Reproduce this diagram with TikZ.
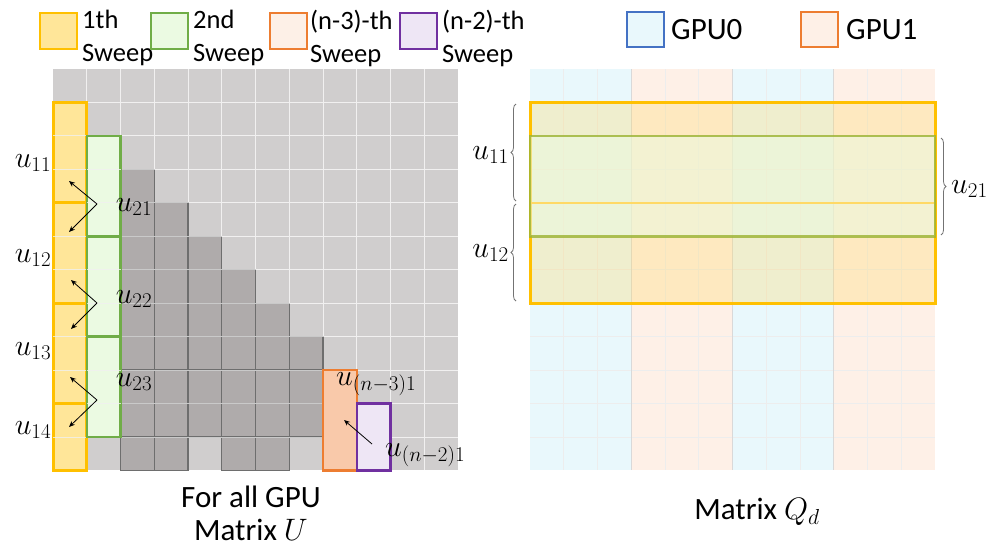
\RequirePackage{fix-cm}
\documentclass[tikz,border=0pt]{standalone}
\usepackage{amsmath}
\usepackage{fontspec}
\setmainfont{Carlito}
\usepackage{tikz}
\usetikzlibrary{arrows.meta,decorations.pathreplacing}
\definecolor{sweepone}{HTML}{FFC000}
\definecolor{sweeponefill}{HTML}{FFE699}
\definecolor{sweeponeveil}{HTML}{FFD966}
\definecolor{sweeptwo}{HTML}{70AD47}
\definecolor{sweeptwofill}{HTML}{EBFAE2}
\definecolor{sweepthree}{HTML}{ED7D31}
\definecolor{sweepthreefill}{HTML}{F9C9AA}
\definecolor{sweepthreelight}{HTML}{FDF0E7}
\definecolor{sweepfour}{HTML}{7030A0}
\definecolor{sweepfourfill}{HTML}{EEE6F5}
\definecolor{gpuzero}{HTML}{4472C4}
\definecolor{gpuzerofill}{HTML}{E9F8FC}
\definecolor{gpuonefill}{HTML}{FEF0E7}
\definecolor{matgray}{HTML}{D0CECE}
\definecolor{cellgray}{HTML}{AFABAB}
\definecolor{celledge}{HTML}{6E6E6E}
\def\firstsweep{(0,1) rectangle (1,12)}
\def\secondsweep{(1,2) rectangle (2,11)}
\def\qblock{(0,1) rectangle (12,7)}
\def\qgreen{(0,2) rectangle (12,5)}

\begin{document}
\begin{tikzpicture}[x=1pt,y=-1pt,
  legendbox/.style={line width=2.5pt},
  legendtext/.style={font=\fontsize{26.5}{33}\selectfont,align=left,inner sep=0pt,anchor=north west},
  gputext/.style={font=\fontsize{31}{33}\selectfont,inner sep=0pt,anchor=west},
  ulabel/.style={font=\fontsize{30}{33}\selectfont,inner sep=0pt},
  caption/.style={font=\fontsize{31}{33}\selectfont,align=center,inner sep=0pt},
  gridline/.style={white!70!matgray,line width=0.9pt},
  qgrid/.style={black!7,line width=0.8pt},
  darkcell/.style={fill=cellgray,draw=celledge,line width=1.2pt},
  pointer/.style={-{Stealth[length=6pt,width=5pt]},line width=0.8pt},
  bracket/.style={black!55,line width=0.8pt,decorate,decoration={brace,amplitude=5pt}}]
\useasboundingbox (0,0) rectangle (997,550);

% legend
\draw[legendbox,draw=sweepone,fill=sweeponefill] (40,13) rectangle (77,49);
\node[legendtext] (leg1) at (82,10) {1th\\Sweep};
\draw[legendbox,draw=sweeptwo,fill=sweeptwofill] (151,13) rectangle (188,49);
\node[legendtext] (leg2) at (193,10) {2nd\\Sweep};
\draw[legendbox,draw=sweepthree,fill=sweepthreelight] (270,13) rectangle (307,49);
\node[legendtext] (leg3) at (310,10) {(n-3)-th\\Sweep};
\draw[legendbox,draw=sweepfour,fill=sweepfourfill] (400,13) rectangle (437,49);
\node[legendtext] (leg4) at (442,10) {(n-2)-th\\Sweep};
\draw[legendbox,draw=gpuzero,fill=gpuzerofill] (627,12) rectangle (664,47);
\node[gputext] (gpu0) at (671,30) {GPU0};
\draw[legendbox,draw=sweepthree,fill=gpuonefill] (801,12) rectangle (838,47);
\node[gputext] (gpu1) at (846,30) {GPU1};

% matrix U
\begin{scope}[shift={(53,69)},x=33.75pt,y=-33.45pt]
  \fill[matgray] (0,0) rectangle (12,12);
  \foreach \i in {1,...,11} {
    \draw[gridline] (\i,0) -- (\i,12);
    \draw[gridline] (0,\i) -- (12,\i);
  }
  \foreach \c/\a/\b in {2/3/11,3/4/11,4/5/10,5/6/11,6/7/11,7/8/10}
    \foreach \r in {\a,...,\b}
      \draw[darkcell] (\c,\r) rectangle ++(1,1);
  \foreach \i in {1,...,11}
    \draw[gridline,opacity=0.7] (0,\i) -- (12,\i);
  \draw[line width=3pt,draw=sweepone,fill=sweeponefill] \firstsweep;
  \foreach \i in {2,3,5,6,8,9,11}
    \draw[gridline,opacity=0.8] (0,\i) -- (1,\i);
  \foreach \i in {4,7,10}
    \draw[sweepone,line width=3pt] (0,\i) -- (1,\i);
  \draw[line width=2.5pt,draw=sweeptwo,fill=sweeptwofill] \secondsweep;
  \foreach \i in {3,4,6,7,9,10}
    \draw[gridline,opacity=0.8] (1,\i) -- (2,\i);
  \foreach \i in {5,8}
    \draw[sweeptwo,line width=2.5pt] (1,\i) -- (2,\i);
  \draw[line width=2.5pt,draw=sweepthree,fill=sweepthreefill] (8,9) rectangle (9,12);
  \draw[line width=2.5pt,draw=sweepfour,fill=sweepfourfill] (9,10) rectangle (10,12);
\end{scope}

% matrix Q_d
\begin{scope}[shift={(530,69)},x=33.75pt,y=-33.45pt]
  \fill[gpuzerofill] (0,0) rectangle (3,12);
  \fill[gpuonefill] (3,0) rectangle (6,12);
  \fill[gpuzerofill] (6,0) rectangle (9,12);
  \fill[gpuonefill] (9,0) rectangle (12,12);
  \foreach \i in {1,...,11} {
    \draw[qgrid] (\i,0) -- (\i,12);
    \draw[qgrid] (0,\i) -- (12,\i);
  }
  \foreach \i in {3,6,9}
    \draw[black!15,line width=1pt] (\i,0) -- (\i,12);
  \draw[line width=3pt,draw=sweepone,fill=sweeponeveil,fill opacity=0.3] \qblock;
  \fill[sweeptwofill,fill opacity=0.55] \qgreen;
  \draw[sweepone!60,line width=2pt] (0,4) -- (12,4);
  \draw[line width=2.5pt,draw=sweeptwo!70!sweepone,draw opacity=0.8] \qgreen;
\end{scope}

% labels of U
\node[ulabel] (u11) at (33,163) {$u_{11}$};
\node[ulabel] (u12) at (33,258) {$u_{12}$};
\node[ulabel] (u13) at (33,351) {$u_{13}$};
\node[ulabel] (u14) at (33,430) {$u_{14}$};
\node[ulabel] (u21) at (134,207) {$u_{21}$};
\node[ulabel] (u22) at (134,299) {$u_{22}$};
\node[ulabel] (u23) at (134,382) {$u_{23}$};
\node[ulabel,anchor=west] (un3) at (336,384) {$u_{(n-3)1}$};
\node[ulabel,anchor=west] (un2) at (385,455) {$u_{(n-2)1}$};

\coordinate (v1) at (97,204);
\coordinate (v2) at (97,303);
\coordinate (v3) at (97,400);
\coordinate (t1a) at (69,181); \coordinate (t1b) at (69,232);
\coordinate (t2a) at (71,280); \coordinate (t2b) at (71,329);
\coordinate (t3a) at (70,377); \coordinate (t3b) at (69,427);
\coordinate (vn) at (372,444);
\coordinate (tn) at (344,420);
\draw[pointer] (v1) -- (t1a);
\draw[pointer] (v1) -- (t1b);
\draw[pointer] (v2) -- (t2a);
\draw[pointer] (v2) -- (t2b);
\draw[pointer] (v3) -- (t3a);
\draw[pointer] (v3) -- (t3b);
\draw[pointer] (vn) -- (tn);

% braces of Q_d
\coordinate (b11s) at (516,201); \coordinate (b11e) at (516,104);
\coordinate (b12s) at (516,301); \coordinate (b12e) at (516,204);
\coordinate (b21s) at (941,138); \coordinate (b21e) at (941,235);
\draw[bracket] (b11s) -- (b11e);
\draw[bracket] (b12s) -- (b12e);
\draw[bracket] (b21s) -- (b21e);
\node[ulabel,anchor=east] (q11) at (509,155) {$u_{11}$};
\node[ulabel,anchor=east] (q12) at (509,253) {$u_{12}$};
\node[ulabel,anchor=west] (q21) at (951,189) {$u_{21}$};

% captions
\node[caption] (capu) at (251,513) {For all GPU\\Matrix $U$};
\node[caption] (capq) at (757,512) {Matrix $Q_d$};
\end{tikzpicture}
\end{document}
